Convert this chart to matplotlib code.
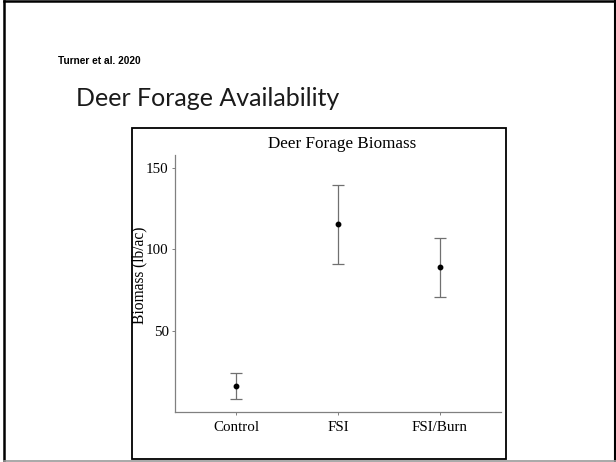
import matplotlib
matplotlib.use("Agg")
import matplotlib.pyplot as plt
from matplotlib.lines import Line2D
from matplotlib.patches import Rectangle

# data
treatments = ["Control", "FSI", "FSI/Burn"]
biomass_mean = [16.2, 115.5, 89.0]
biomass_low = [8.2, 90.8, 70.6]
biomass_high = [24.1, 139.5, 106.9]
y_ticks = [50, 100, 150]

W, H = 616, 462


def fx(x):
    return x / W


def fy(y):
    return 1 - y / H


fig = plt.figure(figsize=(W / 100, H / 100), dpi=100)
fig.patch.set_facecolor("white")

# slide border
fig.add_artist(Line2D([fx(4), fx(4)], [fy(1), fy(462)], color="black", lw=1.8))
fig.add_artist(Line2D([fx(4), fx(614)], [fy(1.2), fy(1.2)], color="black", lw=1.8))
fig.add_artist(Line2D([fx(614.5), fx(614.5)], [fy(1), fy(462)], color="black", lw=1.5))
fig.add_artist(Line2D([fx(4), fx(616)], [fy(461.2), fy(461.2)], color="#9a9a9a", lw=1.2))

# slide texts
fig.text(fx(58), fy(64.5), "Turner et al. 2020", fontsize=7.3, fontweight="bold",
         family="Liberation Sans", ha="left", va="baseline")
fig.text(fx(76), fy(106), "Deer Forage Availability", fontsize=18.0,
         family=["Lato", "Open Sans"], ha="left", va="baseline", color="#1a1a1a")

# box around the pasted chart
fig.add_artist(Rectangle((fx(132), fy(459)), fx(506) - fx(132), fy(128.5) - fy(459),
                         transform=fig.transFigure, fill=False, ec="black", lw=1.3))

ax = fig.add_axes([fx(175), fy(412), fx(501) - fx(175), fy(155) - fy(412)])
x = [1, 2, 3]
err_low = [m - lo for m, lo in zip(biomass_mean, biomass_low)]
err_high = [hi - m for m, hi in zip(biomass_mean, biomass_high)]
ax.errorbar(x, biomass_mean, yerr=[err_low, err_high], fmt="o", color="black",
            ecolor="#707070", elinewidth=0.9, capsize=4, capthick=0.9, markersize=3.2)

ax.set_xlim(0.4, 3.6)
ax.set_ylim(0, 157.7)
ax.set_xticks(x)
ax.set_xticklabels(treatments)
ax.set_yticks(y_ticks)
for s in ["top", "right"]:
    ax.spines[s].set_visible(False)
for s in ["left", "bottom"]:
    ax.spines[s].set_color("#808080")
    ax.spines[s].set_linewidth(0.9)
ax.tick_params(length=2.5, width=0.7, color="#808080", labelsize=10.8, pad=2)
ax.tick_params(axis="x", pad=4)
for lab in ax.get_xticklabels() + ax.get_yticklabels():
    lab.set_family("Liberation Serif")

fig.text(fx(342), fy(147.5), "Deer Forage Biomass", fontsize=12.3,
         family="Liberation Serif", ha="center", va="baseline")
fig.text(fx(139), fy(275), "Biomass (lb/ac)", fontsize=11.2, rotation=90,
         family="Liberation Serif", ha="center", va="center")

fig.savefig("out.png", dpi=100)
